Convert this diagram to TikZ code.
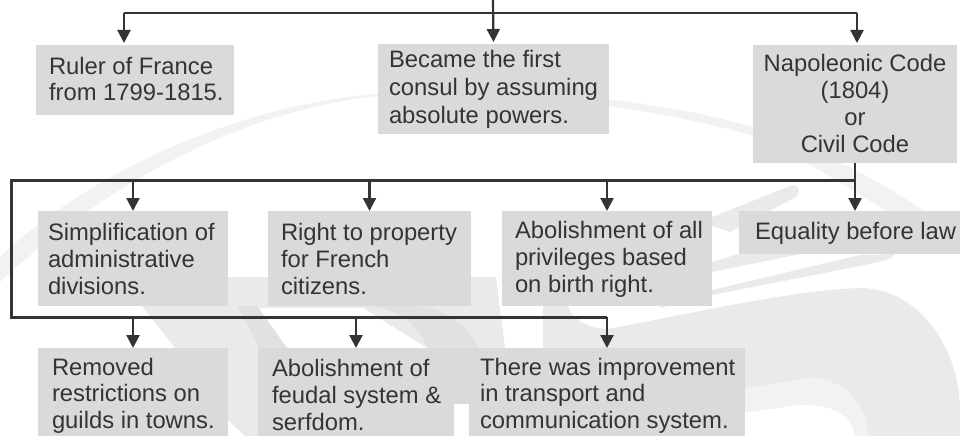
\documentclass[tikz,border=0pt]{standalone}
\usepackage{fontspec}
\setmainfont{Liberation Sans}
\usetikzlibrary{arrows.meta}
\definecolor{boxgrey}{HTML}{D9DBDB}
\definecolor{inkdark}{HTML}{333535}
\definecolor{wmA}{HTML}{E9EBEB}
\definecolor{wmB}{HTML}{E0E1E1}
\definecolor{wmC}{HTML}{F1F2F2}
\newcommand\lft[1]{\raggedright\leftskip=#1pt\relax}
% name x0 y0 x1 y1 align firstbaseline spacing text
\newcommand\bx[9]{%
  \node[boxst,anchor=north west] (#1) at (#2,#3) {%
    \parbox[t][\dimexpr #5pt-#3pt\relax][t]{\dimexpr #4pt-#2pt\relax}{%
      #6\baselineskip=#8pt\lineskiplimit=-100pt\relax
      \vspace*{\dimexpr #7pt-#3pt-20pt\relax}%
      \rule{0pt}{20pt}#9}};}
\tikzset{
  boxst/.style={fill=boxgrey,text=inkdark,inner sep=0pt,outer sep=0pt,font=\fontsize{23.8}{27}\selectfont},
  busline/.style={draw=inkdark,line width=2.6pt,line join=miter},
  arr/.style={draw=inkdark,line width=2.2pt,-{Triangle[width=13pt,length=13pt]}},
  wmlight/.style={fill=wmA,draw=none},
  wmdark/.style={fill=wmB,draw=none},
  wmpale/.style={fill=wmC,draw=none}
}
\begin{document}
\begin{tikzpicture}[x=1pt,y=-1pt]
\useasboundingbox (0,0) rectangle (960,436);
\clip (0,0) rectangle (960,436);
% watermark
\fill[wmC] (0,257) .. controls (80,180) and (230,105) .. (378,94)
  .. controls (500,86) and (640,95) .. (753,127)
  .. controls (820,150) and (890,185) .. (940,222) -- (905,222)
  .. controls (850,190) and (800,155) .. (753,136)
  .. controls (640,103) and (500,90) .. (378,96)
  .. controls (260,108) and (120,170) .. (0,282) -- cycle;
% feather strokes
\fill[wmlight] (700,222) -- (790,186) .. controls (800,183) and (801,192) .. (796,197) -- (730,232) -- cycle;
\fill[wmlight] (712,262) -- (745,252) -- (810,252) -- (712,272) -- cycle;
\fill[wmlight] (660,305) -- (712,290) -- (860,255) -- (895,254) .. controls (890,260) and (880,262) .. (860,266) -- (712,295) -- (660,308) -- cycle;
% large sweep
\fill[wmlight] (543,306) -- (568,306) .. controls (572,320) and (590,329) .. (607,329)
  .. controls (680,316) and (790,290) .. (860,288)
  .. controls (920,288) and (960,350) .. (960,410) -- (960,436) -- (868,436)
  .. controls (865,400) and (840,378) .. (810,378) -- (745,388) -- (543,410) -- cycle;
\fill[wmpale] (745,388) -- (810,378) .. controls (845,378) and (868,405) .. (868,436) -- (855,436)
  .. controls (850,415) and (835,405) .. (800,405) -- (745,413) -- cycle;
\fill[white] (745,413) -- (800,405) .. controls (835,405) and (850,415) .. (855,436) -- (745,436) -- cycle;
% centre bands
\fill[wmlight] (228,277) -- (496,277) -- (505,348) -- (258,348) -- (228,306) -- cycle;
\fill[white] (257,308) -- (363,308) -- (427,348) -- (287,348) -- cycle;
\fill[wmdark] (230,306) -- (257,306) -- (287,348) -- (258,348) -- cycle;
\fill[wmdark] (363,306) .. controls (395,306) and (420,325) .. (427,348) -- (478,348)
  .. controls (465,320) and (440,306) .. (410,306) -- cycle;
\fill[wmlight] (142,306) -- (237,306) -- (258,345) -- (258,436) -- (245,436) -- (228,420) -- (228,348) -- (175,348) -- cycle;
% boxes
\fill[boxgrey] (454,348) rectangle (470,404);
\bx{ruler}{36}{45}{234}{115}{\lft{13}}{75}{26}{Ruler of France\\from 1799-1815.}
\bx{consul}{378}{44}{609}{134}{\lft{11}}{68}{28}{Became the first\\consul by assuming\\absolute powers.}
\bx{code}{753}{45}{957}{163}{\centering}{72}{27}{Napoleonic Code\\(1804)\\or\\Civil Code}
\bx{simp}{38}{211}{228}{306}{\lft{10}}{240}{27}{Simplification of\\administrative\\divisions.}
\bx{prop}{268}{211}{471}{306}{\lft{13}}{240}{27}{Right to property\\for French\\citizens.}
\bx{priv}{502}{211}{712}{306}{\lft{13}}{238}{27}{Abolishment of all\\privileges based\\on birth right.}
\bx{equal}{739}{211}{960}{254}{\lft{16}}{239}{27}{Equality before law}
\bx{guild}{38}{348}{228}{436}{\lft{14}}{375}{26.5}{Removed\\restrictions on\\guilds in towns.}
\bx{feud}{258}{348}{454}{436}{\lft{14}}{376}{27}{Abolishment of\\feudal system \&\\serfdom.}
\bx{trans}{469}{348}{745}{436}{\lft{11}}{375}{26.5}{There was improvement\\in transport and\\communication system.}
% connectors
\coordinate (top) at (493,0);
\coordinate (tm) at (493,13);
\coordinate (tl) at (124,13);
\coordinate (tr) at (857,13);
\coordinate (bl) at (11,180);
\coordinate (cl) at (11,317);
\coordinate (br) at (code.south |- bl);
\coordinate (cr) at (trans.north |- cl);
\draw[busline] (tl) -- (tr);
\draw[arr,shorten >=2pt] (top) -- (consul.north);
\draw[arr,shorten >=2pt] (tl) -- (tl |- ruler.north);
\draw[arr,shorten >=2pt] (tr) -- (tr |- code.north);
\draw[arr] (code.south) -- (code.south |- equal.north);
\draw[busline,line width=3pt] (br) -- (bl) -- (cl) -- (cr);
\draw[arr] (cr) -- (trans.north);
\draw[arr] (simp.north |- bl) -- (simp.north);
\draw[arr] (prop.north |- bl) -- (prop.north);
\draw[arr] (priv.north |- bl) -- (priv.north);
\draw[arr] (guild.north |- cl) -- (guild.north);
\draw[arr] (feud.north |- cl) -- (feud.north);
\end{tikzpicture}
\end{document}
